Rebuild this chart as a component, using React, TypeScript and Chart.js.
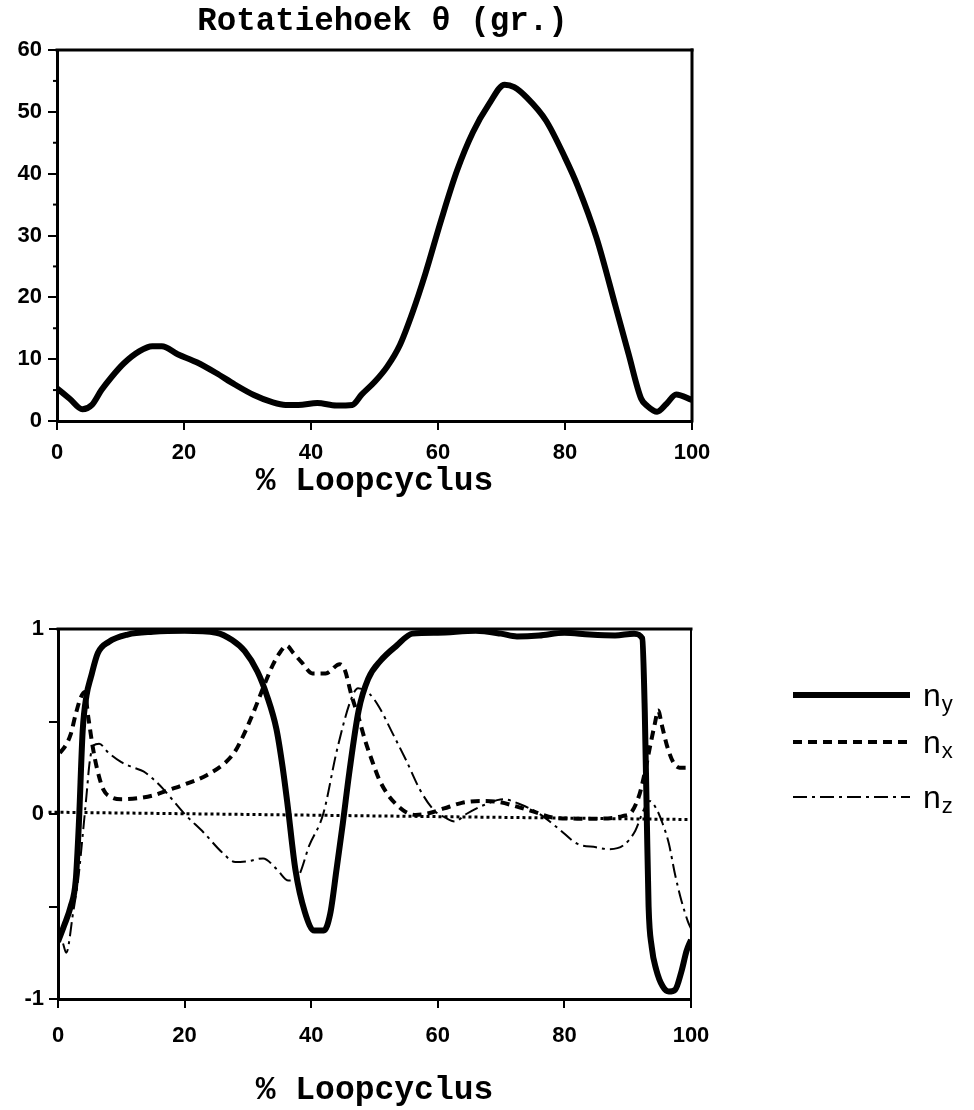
import React, { useEffect, useRef } from "react";
import { Chart, registerables } from "chart.js";

Chart.register(...registerables);

// ---------- Top chart: Rotatiehoek theta ----------
const thetaTitle = "Rotatiehoek θ (gr.)";
const xAxisTitle = "% Loopcyclus";
const thetaX = [0, 2, 4, 5.5, 7, 8.5, 10.5, 13, 15, 16.5, 19, 22, 25, 28, 31, 34, 36, 38, 41, 44, 46.5, 48, 50, 52, 54, 56, 58, 60.5, 63, 65.5, 68, 70.5, 72, 74, 77, 80, 82, 85, 88, 90, 92, 93, 94.5, 96, 97.5, 100];
const thetaY = [5.3, 3.6, 1.9, 2.6, 5.0, 7.0, 9.3, 11.3, 12.1, 12.1, 10.8, 9.5, 7.8, 5.9, 4.2, 3.0, 2.6, 2.6, 2.9, 2.5, 2.6, 4.3, 6.3, 8.8, 12.3, 17.6, 23.8, 32.5, 40.5, 46.7, 51.2, 54.4, 54.0, 52.3, 48.6, 42.6, 38.0, 29.5, 18.4, 10.9, 3.6, 2.4, 1.5, 2.8, 4.3, 3.4];
const thetaMinorTicks = [5, 15, 25, 35, 45, 55];

// ---------- Bottom chart: n_y, n_x, n_z ----------
const nyX = [0, 1, 2, 2.8, 3.3, 3.9, 4.5, 5.2, 6.3, 8, 11, 15, 20, 25, 27.5, 29.5, 31.5, 33, 34.5, 35.5, 36.3, 37.5, 39, 40.5, 42, 43, 44, 45, 46, 47.5, 49, 51, 53.5, 56, 60, 66, 70, 72.5, 76, 80, 84, 88, 91, 92.3, 92.7, 93.0, 93.3, 93.8, 94.5, 95.5, 96.5, 97.5, 98.5, 99.3, 100];
const nyY = [-0.69, -0.6, -0.5, -0.36, -0.05, 0.45, 0.64, 0.74, 0.87, 0.93, 0.97, 0.985, 0.99, 0.98, 0.94, 0.88, 0.77, 0.64, 0.46, 0.25, 0.04, -0.3, -0.53, -0.63, -0.63, -0.54, -0.3, -0.05, 0.22, 0.56, 0.73, 0.83, 0.91, 0.975, 0.98, 0.99, 0.975, 0.96, 0.965, 0.98, 0.97, 0.965, 0.975, 0.95, 0.55, 0.01, -0.5, -0.72, -0.84, -0.93, -0.96, -0.95, -0.85, -0.74, -0.68];

const nxX = [0.3, 1.2, 2.0, 2.8, 3.6, 4.2, 4.8, 5.5, 6.2, 7.2, 8.5, 10, 12.5, 15, 17.5, 20, 23.5, 26.5, 28, 29.5, 31, 32.5, 34, 35.2, 36.1, 37.2, 38.5, 40.2, 42.3, 44.5, 45.3, 46.3, 47.5, 48.5, 49.7, 50.7, 52, 53.5, 55, 56.5, 58.7, 61, 63.8, 66.7, 69.6, 72.5, 75.4, 78.3, 82, 86, 89.3, 90.6, 91.9, 92.8, 93.5, 94.3, 94.8, 95.4, 96.2, 97.2, 98.2, 99.2];
const nxY = [0.33, 0.37, 0.43, 0.54, 0.63, 0.66, 0.52, 0.36, 0.24, 0.13, 0.09, 0.08, 0.085, 0.1, 0.13, 0.16, 0.21, 0.28, 0.34, 0.44, 0.56, 0.69, 0.81, 0.88, 0.91, 0.87, 0.82, 0.76, 0.76, 0.81, 0.78, 0.65, 0.52, 0.4, 0.28, 0.19, 0.11, 0.05, 0.01, -0.005, 0.005, 0.03, 0.06, 0.07, 0.065, 0.04, 0.01, -0.02, -0.025, -0.025, -0.01, 0.01, 0.11, 0.24, 0.36, 0.49, 0.56, 0.48, 0.37, 0.28, 0.25, 0.25];

const nzX = [0.8, 1.3, 2.4, 3.2, 4.0, 4.5, 5.0, 5.6, 6.5, 8, 10, 12, 13.5, 15, 16.5, 18, 20, 23, 26, 28, 30, 32.4, 34.6, 36.4, 37.9, 39.7, 41.9, 44.1, 46.3, 47.4, 49.2, 50.7, 52.8, 55, 57.2, 59.4, 61.2, 62.7, 64.5, 67.4, 70.3, 73.2, 76.1, 79.1, 82, 85, 87, 89.3, 91.2, 92.5, 93.5, 94.5, 95.5, 96.5, 97.5, 98.5, 99.5, 100];
const nzY = [-0.7, -0.75, -0.53, -0.35, -0.08, 0.1, 0.28, 0.37, 0.38, 0.33, 0.28, 0.25, 0.23, 0.19, 0.14, 0.08, 0.0, -0.1, -0.21, -0.26, -0.255, -0.24, -0.3, -0.36, -0.34, -0.17, 0.0, 0.35, 0.62, 0.68, 0.65, 0.58, 0.44, 0.29, 0.13, 0.02, -0.02, -0.04, 0.0, 0.05, 0.08, 0.05, 0.0, -0.08, -0.16, -0.18, -0.19, -0.17, -0.09, 0.02, 0.07, 0.03, -0.05, -0.16, -0.33, -0.47, -0.58, -0.62];

const zeroX = [-1.5, 100];
const zeroY = [0.01, -0.03];

const seriesLabels = ["n_y", "n_x", "n_z"];
const legendBase = "n";
const legendSubs = ["y", "x", "z"];
const bottomYLabels = [-1, 0, 1];

const toPts = (xs: number[], ys: number[]) => xs.map((x, i) => ({ x, y: ys[i] }));

const tickFont = { family: "'Liberation Sans', Arial, sans-serif", weight: "bold" as const, size: 22 };
const titleFont = { family: "'Liberation Mono', 'Courier New', monospace", weight: "bold" as const, size: 33, lineHeight: 1 };
const headFontSize = 32.5;

const framePlugin = {
  id: "frame",
  afterDatasetsDraw(chart: any, _args: any, opts: any) {
    const { ctx, chartArea } = chart;
    const { left, right, top, bottom } = chartArea;
    ctx.save();
    ctx.strokeStyle = "#000";
    ctx.lineCap = "square";
    ctx.lineWidth = opts.top;
    ctx.beginPath();
    ctx.moveTo(left, top);
    ctx.lineTo(right, top);
    ctx.stroke();
    ctx.lineWidth = opts.right;
    ctx.beginPath();
    ctx.moveTo(right, top);
    ctx.lineTo(right, bottom);
    ctx.stroke();
    ctx.restore();
  },
};

const minorTickPlugin = {
  id: "minorTicks",
  afterDraw(chart: any, _args: any, opts: any) {
    if (!opts || !opts.values) return;
    const { ctx, chartArea } = chart;
    const ys = chart.scales.y;
    ctx.save();
    ctx.strokeStyle = "#000";
    ctx.lineWidth = 2;
    opts.values.forEach((v: number) => {
      const py = ys.getPixelForValue(v);
      ctx.beginPath();
      ctx.moveTo(chartArea.left - opts.length, py);
      ctx.lineTo(chartArea.left, py);
      ctx.stroke();
    });
    ctx.restore();
  },
};

const headTitlePlugin = {
  id: "headTitle",
  afterDraw(chart: any, _args: any, opts: any) {
    if (!opts || !opts.text) return;
    const { ctx, chartArea } = chart;
    ctx.save();
    ctx.fillStyle = "#000";
    ctx.font = `bold ${headFontSize}px ${titleFont.family}`;
    ctx.textAlign = "center";
    ctx.textBaseline = "alphabetic";
    ctx.fillText(opts.text, (chartArea.left + chartArea.right) / 2 + opts.dx, opts.baseline);
    ctx.restore();
  },
};

const subLegendPlugin = {
  id: "subLegend",
  afterDraw(chart: any, _args: any, opts: any) {
    if (!opts || !opts.rows) return;
    const { ctx, chartArea } = chart;
    opts.rows.forEach((dy: number, i: number) => {
      const ds = chart.data.datasets[i];
      const y = chartArea.top + dy;
      ctx.save();
      ctx.strokeStyle = ds.borderColor;
      ctx.lineWidth = ds.borderWidth;
      ctx.setLineDash(ds.borderDash || []);
      ctx.beginPath();
      ctx.moveTo(chartArea.right + opts.lineStart, y);
      ctx.lineTo(chartArea.right + opts.lineEnd, y);
      ctx.stroke();
      ctx.setLineDash([]);
      ctx.fillStyle = "#000";
      ctx.textBaseline = "alphabetic";
      ctx.textAlign = "left";
      const tx = chartArea.right + opts.textX;
      ctx.font = "32px 'Liberation Sans', Arial, sans-serif";
      ctx.fillText(legendBase, tx, y + opts.baseDy);
      const w = ctx.measureText(legendBase).width;
      ctx.font = "22px 'Liberation Sans', Arial, sans-serif";
      ctx.fillText(legendSubs[i], tx + w + 1, y + opts.subDy);
      ctx.restore();
    });
  },
};

const commonGrid = {
  display: true,
  drawOnChartArea: false,
  drawTicks: true,
  tickLength: 9,
  lineWidth: 2,
  tickWidth: 2,
  color: "#000",
};

export default function App() {
  const topRef = useRef<HTMLCanvasElement>(null);
  const botRef = useRef<HTMLCanvasElement>(null);

  useEffect(() => {
    const top = new Chart(topRef.current as HTMLCanvasElement, {
      type: "line",
      data: {
        datasets: [
          {
            label: "theta",
            data: toPts(thetaX, thetaY),
            borderColor: "#000",
            borderWidth: 6,
            pointRadius: 0,
            fill: false,
            cubicInterpolationMode: "monotone",
          },
        ],
      },
      options: {
        animation: false,
        responsive: false,
        events: [],
        layout: { padding: { left: 0, right: 282, top: 50, bottom: 0 } },
        plugins: {
          legend: { display: false },
          tooltip: { enabled: false },
          frame: { top: 3, right: 3 },
          minorTicks: { values: thetaMinorTicks, length: 4 },
          headTitle: { text: thetaTitle, dx: 8, baseline: 30 },
        } as any,
        scales: {
          x: {
            type: "linear",
            min: 0,
            max: 100,
            ticks: { stepSize: 20, color: "#000", font: tickFont, padding: 10, maxRotation: 0, autoSkip: false },
            grid: commonGrid,
            border: { display: true, color: "#000", width: 3 },
            title: { display: true, text: xAxisTitle, color: "#000", font: titleFont, padding: { top: 0, bottom: 12 } },
            afterFit: (s: any) => { s.height = 89; },
          },
          y: {
            type: "linear",
            min: 0,
            max: 60,
            ticks: { stepSize: 10, color: "#000", font: tickFont, padding: 6 },
            grid: commonGrid,
            border: { display: true, color: "#000", width: 3 },
            afterFit: (s: any) => { s.width = 57; },
          },
        },
      } as any,
      plugins: [framePlugin, minorTickPlugin, headTitlePlugin],
    });

    const bot = new Chart(botRef.current as HTMLCanvasElement, {
      type: "line",
      data: {
        datasets: [
          {
            label: seriesLabels[0],
            data: toPts(nyX, nyY),
            borderColor: "#000",
            borderWidth: 6,
            pointRadius: 0,
            fill: false,
            cubicInterpolationMode: "monotone",
          },
          {
            label: seriesLabels[1],
            data: toPts(nxX, nxY),
            borderColor: "#000",
            borderWidth: 4,
            borderDash: [9, 6],
            pointRadius: 0,
            fill: false,
            cubicInterpolationMode: "monotone",
          },
          {
            label: seriesLabels[2],
            data: toPts(nzX, nzY),
            borderColor: "#000",
            borderWidth: 2,
            borderDash: [14, 5, 3, 5],
            pointRadius: 0,
            fill: false,
            cubicInterpolationMode: "monotone",
          },
          {
            label: "zero",
            data: toPts(zeroX, zeroY),
            borderColor: "#000",
            borderWidth: 3,
            borderDash: [3, 3],
            pointRadius: 0,
            fill: false,
            clip: false,
          },
        ],
      },
      options: {
        animation: false,
        responsive: false,
        events: [],
        layout: { padding: { left: 0, right: 283, top: 69, bottom: 0 } },
        plugins: {
          legend: { display: false },
          tooltip: { enabled: false },
          frame: { top: 3, right: 2 },
          subLegend: { rows: [66, 113, 168], lineStart: 102, lineEnd: 219, textX: 232, baseDy: 11, subDy: 16 },
        } as any,
        scales: {
          x: {
            type: "linear",
            min: 0,
            max: 100,
            ticks: { stepSize: 20, color: "#000", font: tickFont, padding: 15, maxRotation: 0, autoSkip: false },
            grid: commonGrid,
            border: { display: true, color: "#000", width: 3 },
            title: { display: true, text: xAxisTitle, color: "#000", font: titleFont, padding: { top: 0, bottom: 1 } },
            afterFit: (s: any) => { s.height = 109; },
          },
          y: {
            type: "linear",
            min: -1,
            max: 1,
            ticks: {
              stepSize: 0.5,
              color: "#000",
              font: tickFont,
              padding: 5,
              callback: (v: any) => (bottomYLabels.includes(Number(v)) ? String(v) : ""),
            },
            grid: commonGrid,
            border: { display: true, color: "#000", width: 3 },
            afterFit: (s: any) => { s.width = 58; },
          },
        },
      } as any,
      plugins: [framePlugin, subLegendPlugin],
    });

    return () => {
      top.destroy();
      bot.destroy();
    };
  }, []);

  return (
    <div style={{ position: "absolute", left: 0, top: 0, width: 974, height: 1108, background: "#fff" }}>
      <canvas
        ref={topRef}
        width={974}
        height={510}
        style={{ position: "absolute", left: 0, top: 0, width: 974, height: 510 }}
      />
      <canvas
        ref={botRef}
        width={974}
        height={548}
        style={{ position: "absolute", left: 0, top: 560, width: 974, height: 548 }}
      />
    </div>
  );
}
